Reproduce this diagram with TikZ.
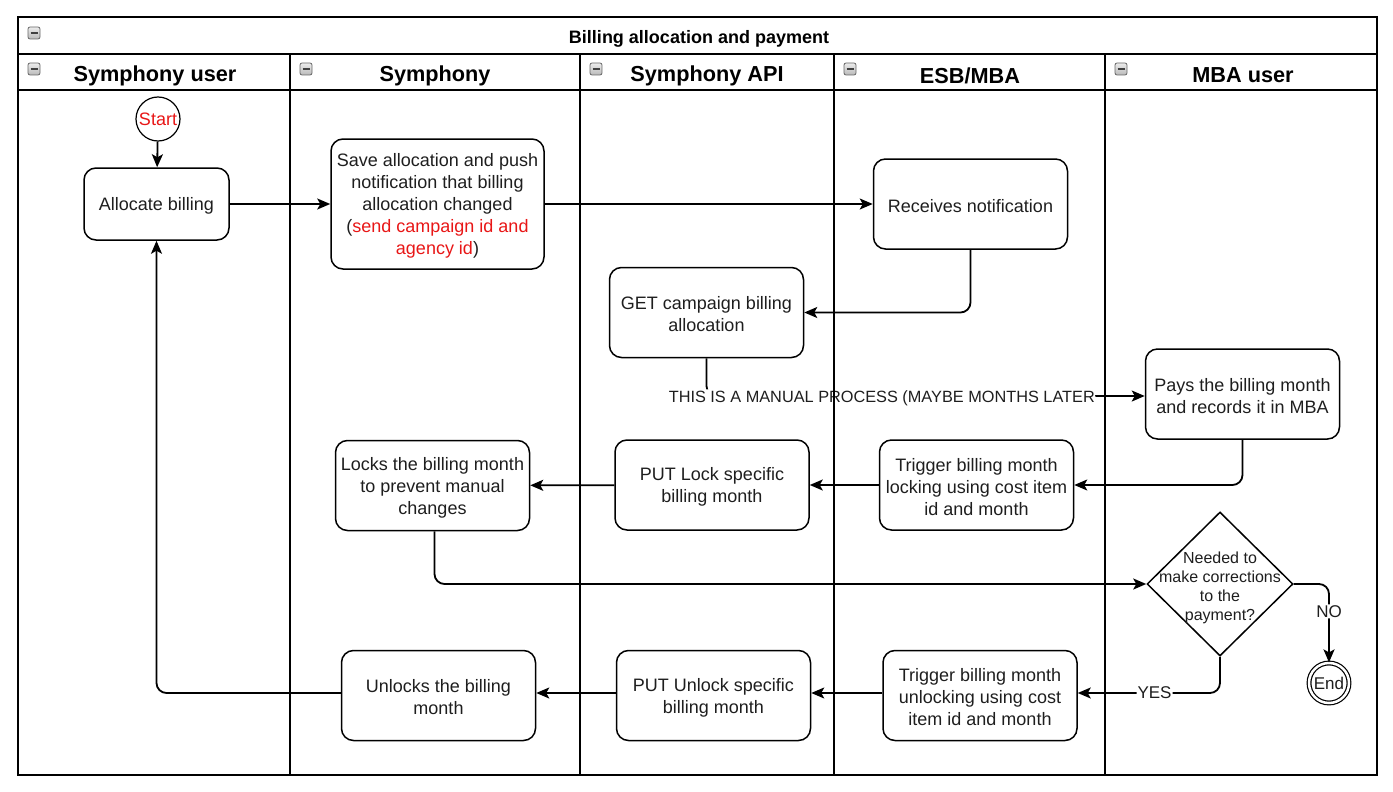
\documentclass[tikz,border=0pt]{standalone}
\usepackage{fontspec}
\setmainfont{Liberation Sans}
\usetikzlibrary{arrows.meta,shapes.geometric}
\definecolor{redtxt}{RGB}{232,22,22}
\definecolor{txt}{RGB}{30,30,30}
\newcommand{\topstrut}{\rule{0pt}{17pt}}
\begin{document}
\begin{tikzpicture}[x=1pt,y=-1pt,
  box/.style={draw,line width=1.5pt,rounded corners=12pt,align=center,text=txt,
    font=\fontsize{18}{22}\selectfont,inner sep=0pt,minimum width=194pt,minimum height=90pt},
  edge/.style={line width=1.8pt,-{Stealth[length=13pt,width=11pt,inset=3pt]},rounded corners=10pt},
  lane/.style={line width=1.8pt},
  hdr/.style={font=\bfseries\fontsize{21.7}{24}\selectfont},
  elabel/.style={fill=white,inner sep=1pt,text=txt,font=\fontsize{17}{20}\selectfont},
  icon/.style={draw=gray!80!black,rounded corners=2pt,minimum size=12pt,inner sep=0pt,
    top color=gray!15,bottom color=gray!55,line width=0.8pt}
]
\useasboundingbox (0,0) rectangle (1393,792);
% nodes
\node[circle,draw,line width=1.2pt,minimum size=44pt,inner sep=0pt,text=redtxt,
  font=\fontsize{18}{20}\selectfont] (start) at (158,119) {Start};
\node[box,minimum width=145pt,minimum height=72pt] (alloc) at (156.5,204) {\topstrut Allocate billing};
\node[box,minimum width=213pt,minimum height=130pt] (save) at (437.5,204)
  {\topstrut Save allocation and push\\notification that billing\\allocation changed\\
   ({\color{redtxt}send campaign id and}\\{\color{redtxt}agency id})};
\node[box] (recv) at (970.5,204) {\topstrut Receives notification};
\node[box] (get) at (706.5,312.5) {\topstrut GET campaign billing\\allocation};
\node[box] (pays) at (1242.5,394) {\topstrut Pays the billing month\\and records it in MBA};
\node[box] (locks) at (432.5,485.5) {\topstrut Locks the billing month\\to prevent manual\\changes};
\node[box] (putl) at (712,485) {\topstrut PUT Lock specific\\billing month};
\node[box] (trigl) at (976.5,485) {\topstrut Trigger billing month\\locking using cost item\\id and month};
\node[draw,diamond,line width=1.5pt,minimum width=146pt,minimum height=144pt,inner sep=0pt] (dec) at (1220,584) {};
\node[align=center,text=txt,font=\fontsize{16}{19}\selectfont] (dectext) at (1220,587.5)
  {Needed to\\make corrections\\to the\\payment?};
\node[circle,draw,line width=1.2pt,double,double distance=2.5pt,minimum size=40pt,inner sep=0pt,
  text=txt,font=\fontsize{17}{20}\selectfont] (end) at (1329,683) {End};
\node[box] (unlocks) at (438.5,695.5) {\topstrut Unlocks the billing\\month};
\node[box] (putu) at (713.5,695.5) {\topstrut PUT Unlock specific\\billing month};
\node[box] (trigu) at (980,695.5) {\topstrut Trigger billing month\\unlocking using cost\\item id and month};
% edges
\draw[edge] (start) -- (alloc);
\draw[edge] (alloc) -- (save);
\draw[edge] (save.east) -- (recv.west);
\draw[edge] (recv.south) |- (get.east);
\draw[edge] (get.south) |- node[pos=0.7,yshift=-2pt,fill=white,inner sep=1pt,text=txt,font=\fontsize{16.3}{18}\selectfont]
  {THIS IS A MANUAL PROCESS (MAYBE MONTHS LATER} ([yshift=-2pt]pays.west);
\draw[edge] (pays.south) |- (trigl.east);
\draw[edge] (trigl) -- (putl);
\draw[edge] (putl) -- (locks);
\draw[edge] ([xshift=2pt]locks.south) |- (dec.west);
\draw[edge] (dec.east) -| node[pos=0.675,elabel] {NO} (end.north);
\draw[edge] (dec.south) |- node[pos=0.73,elabel] {YES} ([yshift=2.5pt]trigu.east);
\draw[edge] ([yshift=2.5pt]trigu.west) -- ([yshift=2.5pt]putu.east);
\draw[edge] ([yshift=2.5pt]putu.west) -- ([yshift=2.5pt]unlocks.east);
\draw[edge] ([yshift=2.5pt]unlocks.west) -| (alloc.south);
% pool and lanes
\coordinate (tl) at (18,17);
\coordinate (br) at (1377,775);
\draw[lane] (tl) rectangle (br);
\draw[lane] (18,54) -- (1377,54);
\draw[lane] (18,90) -- (1377,90);
\foreach \xx in {290,580,834,1105} \draw[lane] (\xx,54) -- (\xx,775);
\node[font=\bfseries\fontsize{18}{20}\selectfont] (title) at (699,38.5) {Billing allocation and payment};
\node[hdr] (h1) at (155,75.5) {Symphony user};
\node[hdr] (h2) at (435,75.5) {Symphony};
\node[hdr] (h3) at (707,75.5) {Symphony API};
\node[hdr] (h4) at (970,75.5) {ESB/MBA};
\node[hdr] (h5) at (1243,75.5) {MBA user};
\foreach \ix/\iy [count=\k] in {34/33,34/69,306/69,596/69,850/69,1121/69}{
  \node[icon] (ic\k) at (\ix,\iy) {};
  \draw[line width=1.6pt,black!75] (\ix-3.5,\iy) -- (\ix+3.5,\iy);
}
\end{tikzpicture}
\end{document}
